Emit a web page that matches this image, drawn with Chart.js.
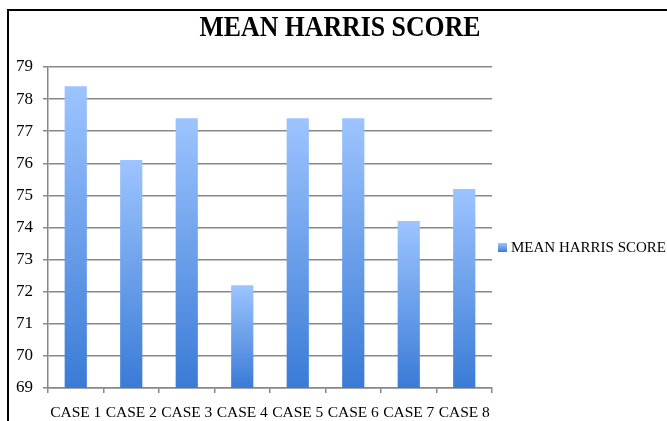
<!DOCTYPE html>
<html>
<head>
<meta charset="utf-8">
<script src="https://cdn.jsdelivr.net/npm/chart.js@4/dist/chart.umd.min.js"></script>
<style>
  html, body { margin: 0; padding: 0; background: #fff; overflow: hidden; }
  #wrap { position: relative; width: 667px; height: 421px; }
</style>
</head>
<body>
<div id="wrap"><canvas id="chart" width="667" height="421"></canvas></div>
<script>
  'use strict';

  var chartTitle = 'MEAN HARRIS SCORE';
  var seriesLabel = 'MEAN HARRIS SCORE';
  var categories = ['CASE 1', 'CASE 2', 'CASE 3', 'CASE 4', 'CASE 5', 'CASE 6', 'CASE 7', 'CASE 8'];
  var scores = [78.4, 76.1, 77.4, 72.2, 77.4, 77.4, 74.2, 75.2];
  var yMin = 69;
  var yMax = 79;

  var serif = '"Liberation Serif", "Times New Roman", serif';
  var gridGray = '#878787';

  function barFill(ctx) {
    var chart = ctx.chart;
    if (!chart.chartArea || ctx.type !== 'data') {
      return '#6fa3ef';
    }
    var y = chart.scales.y;
    var top = y.getPixelForValue(ctx.raw);
    var bottom = y.getPixelForValue(yMin);
    var g = chart.ctx.createLinearGradient(0, top, 0, bottom);
    g.addColorStop(0, '#9dc4ff');
    g.addColorStop(1, '#3a7bd6');
    return g;
  }

  // white page, the black frame, the title and the legend on the right
  var decor = {
    id: 'decor',
    beforeDraw: function (chart) {
      var c = chart.ctx;
      c.save();
      c.fillStyle = '#fff';
      c.fillRect(0, 0, chart.width, chart.height);
      c.fillStyle = '#000';
      c.fillRect(7, 9, chart.width - 7, 2);
      c.fillRect(7, 9, 2, chart.height - 9);
      c.restore();
    },
    afterDraw: function (chart) {
      var c = chart.ctx;
      c.save();
      c.fillStyle = '#000';
      c.font = 'bold 30px ' + serif;
      c.textAlign = 'center';
      c.textBaseline = 'alphabetic';
      c.translate(340, 36);
      c.scale(0.86, 1);
      c.fillText(chartTitle, 0, 0);
      c.restore();

      c.save();
      var g = c.createLinearGradient(0, 243, 0, 252);
      g.addColorStop(0, '#9dc4ff');
      g.addColorStop(1, '#3a7bd6');
      c.fillStyle = g;
      c.fillRect(498, 243, 9, 9);
      c.fillStyle = '#000';
      c.font = '15px ' + serif;
      c.textAlign = 'left';
      c.textBaseline = 'middle';
      c.fillText(seriesLabel, 511, 248);
      c.restore();
    }
  };

  new Chart(document.getElementById('chart'), {
    type: 'bar',
    data: {
      labels: categories,
      datasets: [{
        label: seriesLabel,
        data: scores,
        backgroundColor: barFill,
        borderWidth: 0,
        barPercentage: 0.4,
        categoryPercentage: 1
      }]
    },
    options: {
      responsive: false,
      animation: false,
      layout: { padding: { top: 67, right: 175, left: 0, bottom: 0 } },
      plugins: {
        legend: { display: false },
        title: { display: false },
        tooltip: { enabled: false }
      },
      scales: {
        x: {
          grid: { display: true, drawOnChartArea: false, drawTicks: true, tickLength: 5, color: gridGray, lineWidth: 1.5 },
          border: { color: gridGray, width: 1.5 },
          ticks: { color: '#000', font: { family: serif, size: 15.5 }, padding: 11, maxRotation: 0, autoSkip: false },
          afterFit: function (scale) { scale.height = 33; }
        },
        y: {
          min: yMin,
          max: yMax,
          grid: { color: gridGray, lineWidth: 1.5, tickLength: 5 },
          border: { color: gridGray, width: 1.5 },
          ticks: { stepSize: 1, color: '#000', font: { family: serif, size: 17 }, padding: 10 },
          afterFit: function (scale) { scale.width = 48; }
        }
      }
    },
    plugins: [decor]
  });
</script>
</body>
</html>
